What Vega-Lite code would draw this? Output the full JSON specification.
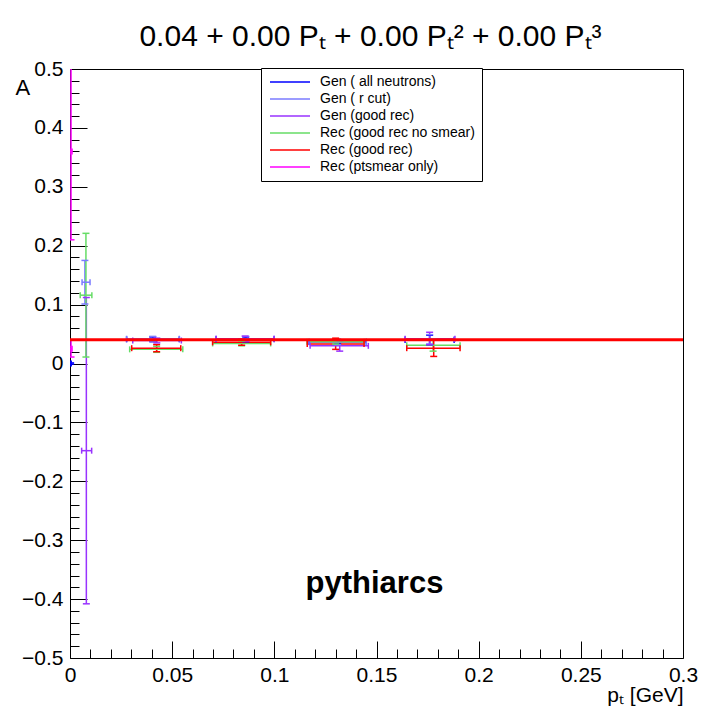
{
  "$schema": "https://vega.github.io/schema/vega-lite/v6.json",
  "width": 613,
  "height": 589,
  "autosize": "none",
  "padding": {"left": 70, "top": 69, "right": 19, "bottom": 55},
  "background": "white",
  "config": {"view": {"stroke": "black", "strokeWidth": 1}, "font": "Liberation Sans"},
  "title": {"text": "0.04 + 0.00 Pₜ + 0.00 Pₜ² + 0.00 Pₜ³", "fontSize": 30, "font": "Liberation Sans", "fontWeight": "normal", "anchor": "middle", "offset": 22, "baseline": "alphabetic", "color": "black", "dx": -6, "dy": 40},
  "datasets": {
    "pts": [
      {"s": "Gen ( all neutrons)", "x": 0.0003, "y": 0.0, "xlo": 0.0, "xhi": 0.0006, "ylo": -0.001, "yhi": 0.001},
      {"s": "Gen ( all neutrons)", "x": 0.0405, "y": 0.041, "xlo": 0.0277, "xhi": 0.0535, "ylo": 0.037, "yhi": 0.045},
      {"s": "Gen ( all neutrons)", "x": 0.086, "y": 0.041, "xlo": 0.0715, "xhi": 0.0999, "ylo": 0.037, "yhi": 0.045},
      {"s": "Gen ( all neutrons)", "x": 0.131, "y": 0.037, "xlo": 0.117, "xhi": 0.145, "ylo": 0.033, "yhi": 0.041},
      {"s": "Gen ( all neutrons)", "x": 0.176, "y": 0.040, "xlo": 0.164, "xhi": 0.188, "ylo": 0.032, "yhi": 0.048},
      {"s": "Gen ( r cut)", "x": 0.0073, "y": 0.138, "xlo": 0.0059, "xhi": 0.0098, "ylo": 0.101, "yhi": 0.175},
      {"s": "Gen ( r cut)", "x": 0.0405, "y": 0.042, "xlo": 0.0277, "xhi": 0.0535, "ylo": 0.038, "yhi": 0.046},
      {"s": "Gen ( r cut)", "x": 0.086, "y": 0.042, "xlo": 0.0715, "xhi": 0.0999, "ylo": 0.038, "yhi": 0.046},
      {"s": "Gen ( r cut)", "x": 0.131, "y": 0.036, "xlo": 0.117, "xhi": 0.145, "ylo": 0.032, "yhi": 0.040},
      {"s": "Gen ( r cut)", "x": 0.176, "y": 0.041, "xlo": 0.164, "xhi": 0.188, "ylo": 0.033, "yhi": 0.049},
      {"s": "Gen (good rec)", "x": 0.008, "y": -0.148, "xlo": 0.0057, "xhi": 0.0106, "ylo": -0.408, "yhi": 0.112},
      {"s": "Gen (good rec)", "x": 0.0425, "y": 0.039, "xlo": 0.0307, "xhi": 0.0545, "ylo": 0.035, "yhi": 0.043},
      {"s": "Gen (good rec)", "x": 0.0857, "y": 0.042, "xlo": 0.0715, "xhi": 0.0999, "ylo": 0.0375, "yhi": 0.0465},
      {"s": "Gen (good rec)", "x": 0.132, "y": 0.030, "xlo": 0.1175, "xhi": 0.146, "ylo": 0.021, "yhi": 0.039},
      {"s": "Gen (good rec)", "x": 0.176, "y": 0.042, "xlo": 0.164, "xhi": 0.1884, "ylo": 0.032, "yhi": 0.053},
      {"s": "Rec (good rec no smear)", "x": 0.0078, "y": 0.116, "xlo": 0.005, "xhi": 0.0107, "ylo": 0.011, "yhi": 0.221},
      {"s": "Rec (good rec no smear)", "x": 0.0424, "y": 0.024, "xlo": 0.0292, "xhi": 0.0552, "ylo": 0.019, "yhi": 0.029},
      {"s": "Rec (good rec no smear)", "x": 0.084, "y": 0.034, "xlo": 0.0698, "xhi": 0.0982, "ylo": 0.030, "yhi": 0.038},
      {"s": "Rec (good rec no smear)", "x": 0.130, "y": 0.037, "xlo": 0.116, "xhi": 0.144, "ylo": 0.033, "yhi": 0.041},
      {"s": "Rec (good rec no smear)", "x": 0.1777, "y": 0.031, "xlo": 0.1648, "xhi": 0.1909, "ylo": 0.021, "yhi": 0.041},
      {"s": "Rec (good rec)", "x": 0.0424, "y": 0.026, "xlo": 0.0302, "xhi": 0.0542, "ylo": 0.020, "yhi": 0.032},
      {"s": "Rec (good rec)", "x": 0.084, "y": 0.036, "xlo": 0.0698, "xhi": 0.0982, "ylo": 0.031, "yhi": 0.041},
      {"s": "Rec (good rec)", "x": 0.130, "y": 0.033, "xlo": 0.1161, "xhi": 0.1439, "ylo": 0.024, "yhi": 0.043},
      {"s": "Rec (good rec)", "x": 0.178, "y": 0.026, "xlo": 0.1648, "xhi": 0.1909, "ylo": 0.012, "yhi": 0.040},
      {"s": "Rec (ptsmear only)", "x": 0.0005, "y": 0.36, "xlo": 0.0, "xhi": 0.001, "ylo": 0.21, "yhi": 0.51},
      {"s": "Rec (ptsmear only)", "x": 0.0005, "y": 0.025, "xlo": 0.0, "xhi": 0.001, "ylo": 0.011, "yhi": 0.040}
    ],
    "fit": [{"a": 0.0405}],
    "lbl": [{"x": 0.149, "y": -0.39, "t": "pythiarcs"}]
  },
  "resolve": {"axis": {"x": "independent", "y": "independent"}},
  "layer": [
    {
      "data": {"name": "pts"},
      "mark": {"type": "rule", "strokeWidth": 1.5, "clip": true},
      "encoding": {
        "x": {"field": "x", "type": "quantitative",
          "scale": {"domain": [0, 0.3], "nice": false, "zero": false},
          "axis": {"orient": "bottom", "offset": -17, "values": [0, 0.05, 0.1, 0.15, 0.2, 0.25, 0.3], "tickSize": 17, "tickColor": "black", "tickWidth": 1, "domain": false, "grid": false, "labelFontSize": 21, "labelFont": "Liberation Sans", "labelColor": "black", "labelPadding": 6, "labelExpr": "datum.value==0?'0':format(datum.value,'~g')", "labelFlush": false, "labelOverlap": false, "labelBound": false,
            "title": "pₜ [GeV]", "titleFontSize": 21, "titleFont": "Liberation Sans", "titleFontWeight": "normal", "titleColor": "black", "titleAlign": "right", "titleAnchor": "end", "titleX": 613, "titleY": 60, "titleBaseline": "alphabetic"}},
        "y": {"field": "ylo", "type": "quantitative",
          "scale": {"domain": [-0.5, 0.5], "nice": false, "zero": false},
          "axis": {"orient": "left", "offset": -17, "values": [-0.5, -0.4, -0.3, -0.2, -0.1, 0, 0.1, 0.2, 0.3, 0.4, 0.5], "tickSize": 17, "tickColor": "black", "tickWidth": 1, "domain": false, "grid": false, "labelFontSize": 21, "labelFont": "Liberation Sans", "labelColor": "black", "labelPadding": 7, "labelExpr": "datum.value==0?'0':format(datum.value,'.1f')", "labelFlush": false, "labelOverlap": false, "labelBound": false,
            "title": "A", "titleFontSize": 22, "titleFont": "Liberation Sans", "titleFontWeight": "normal", "titleColor": "black", "titleAngle": 0, "titleAlign": "left", "titleBaseline": "alphabetic", "titleX": -72, "titleY": 25}},
        "y2": {"field": "yhi"},
        "color": {"field": "s", "type": "nominal",
          "scale": {"domain": ["Gen ( all neutrons)", "Gen ( r cut)", "Gen (good rec)", "Rec (good rec no smear)", "Rec (good rec)", "Rec (ptsmear only)"], "range": ["#0000ff", "#7b7bff", "#9933ff", "#66dd66", "#ff0000", "#ff00ff"]},
          "legend": {"orient": "none", "legendX": 191, "legendY": -1, "title": null, "symbolType": "M-1,0L7,0", "symbolSize": 100, "symbolStrokeWidth": 1.5, "labelFontSize": 14, "labelFont": "Liberation Sans", "labelColor": "black", "labelOffset": 38, "padding": 7, "rowPadding": 3, "strokeColor": "black", "fillColor": "white"}}
      }
    },
    {
      "data": {"name": "pts"},
      "mark": {"type": "rule", "strokeWidth": 1.5, "clip": true},
      "encoding": {
        "x": {"field": "xlo", "type": "quantitative",
          "axis": {"orient": "bottom", "offset": -9, "values": [0.01, 0.02, 0.03, 0.04, 0.06, 0.07, 0.08, 0.09, 0.11, 0.12, 0.13, 0.14, 0.16, 0.17, 0.18, 0.19, 0.21, 0.22, 0.23, 0.24, 0.26, 0.27, 0.28, 0.29], "tickSize": 9, "tickColor": "black", "tickWidth": 1, "domain": false, "grid": false, "labels": false, "title": null}},
        "x2": {"field": "xhi"},
        "y": {"field": "y", "type": "quantitative",
          "axis": {"orient": "left", "offset": -9, "values": [-0.48, -0.46, -0.44, -0.42, -0.38, -0.36, -0.34, -0.32, -0.28, -0.26, -0.24, -0.22, -0.18, -0.16, -0.14, -0.12, -0.08, -0.06, -0.04, -0.02, 0.02, 0.04, 0.06, 0.08, 0.12, 0.14, 0.16, 0.18, 0.22, 0.24, 0.26, 0.28, 0.32, 0.34, 0.36, 0.38, 0.42, 0.44, 0.46, 0.48], "tickSize": 9, "tickColor": "black", "tickWidth": 1, "domain": false, "grid": false, "labels": false, "title": null}},
        "color": {"field": "s", "type": "nominal", "legend": null}
      }
    },
    {
      "data": {"name": "pts"},
      "mark": {"type": "point", "shape": "M-1,0L1,0", "size": 49, "filled": false, "strokeWidth": 1.5, "opacity": 1, "clip": true},
      "encoding": {
        "x": {"field": "x", "type": "quantitative", "axis": null},
        "y": {"field": "ylo", "type": "quantitative", "axis": null},
        "color": {"field": "s", "type": "nominal", "legend": null}
      }
    },
    {
      "data": {"name": "pts"},
      "mark": {"type": "point", "shape": "M-1,0L1,0", "size": 49, "filled": false, "strokeWidth": 1.5, "opacity": 1, "clip": true},
      "encoding": {
        "x": {"field": "x", "type": "quantitative", "axis": null},
        "y": {"field": "yhi", "type": "quantitative", "axis": null},
        "color": {"field": "s", "type": "nominal", "legend": null}
      }
    },
    {
      "data": {"name": "pts"},
      "mark": {"type": "point", "shape": "M0,-1L0,1", "size": 36, "filled": false, "strokeWidth": 1.5, "opacity": 1, "clip": true},
      "encoding": {
        "x": {"field": "xlo", "type": "quantitative", "axis": null},
        "y": {"field": "y", "type": "quantitative", "axis": null},
        "color": {"field": "s", "type": "nominal", "legend": null}
      }
    },
    {
      "data": {"name": "pts"},
      "mark": {"type": "point", "shape": "M0,-1L0,1", "size": 36, "filled": false, "strokeWidth": 1.5, "opacity": 1, "clip": true},
      "encoding": {
        "x": {"field": "xhi", "type": "quantitative", "axis": null},
        "y": {"field": "y", "type": "quantitative", "axis": null},
        "color": {"field": "s", "type": "nominal", "legend": null}
      }
    },
    {
      "data": {"name": "fit"},
      "mark": {"type": "rule", "color": "#ff0000", "strokeWidth": 3},
      "encoding": {
        "y": {"field": "a", "type": "quantitative", "axis": null}
      }
    },
    {
      "data": {"name": "lbl"},
      "mark": {"type": "text", "font": "Liberation Sans", "fontWeight": "bold", "fontSize": 31, "align": "center", "baseline": "alphabetic", "color": "black"},
      "encoding": {
        "x": {"field": "x", "type": "quantitative", "axis": null},
        "y": {"field": "y", "type": "quantitative", "axis": null},
        "text": {"field": "t"}
      }
    }
  ]
}
